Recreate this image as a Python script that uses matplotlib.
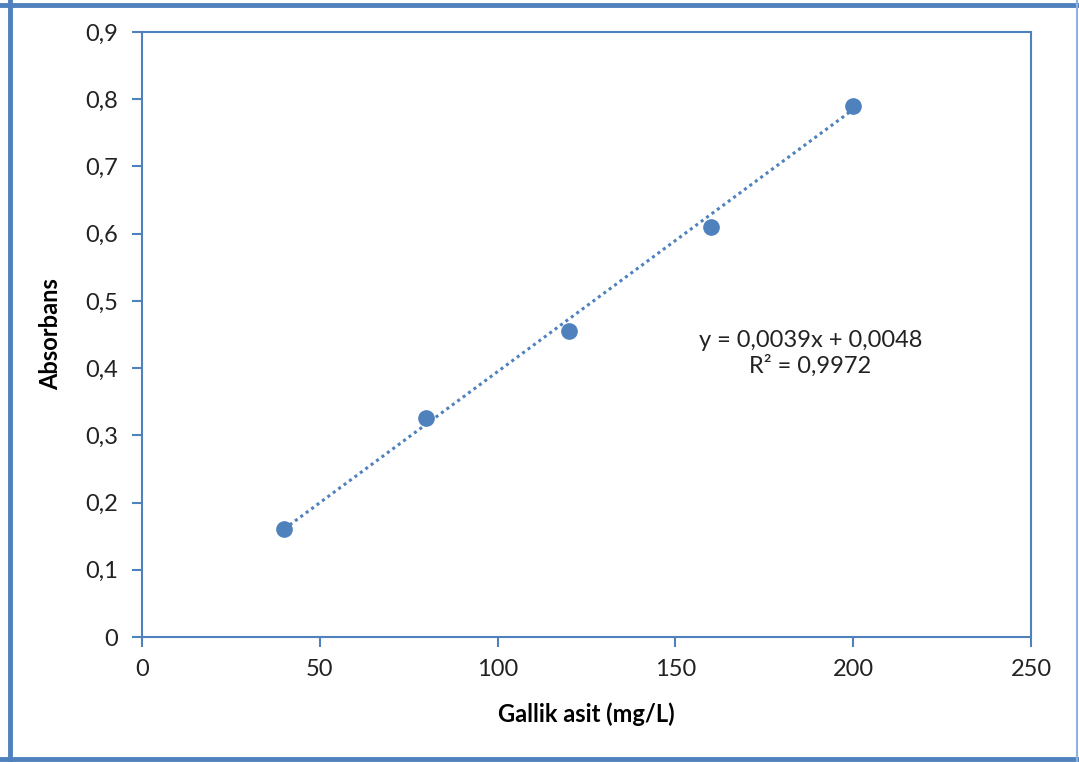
import matplotlib
matplotlib.use("Agg")
import matplotlib.pyplot as plt
import numpy as np
from matplotlib.lines import Line2D
from matplotlib.ticker import FuncFormatter

concentration = [40, 80, 120, 160, 200]
absorbance = [0.16, 0.326, 0.455, 0.61, 0.79]
slope = 0.0039
intercept = 0.0048
r2 = 0.9972
x_ticks = [0, 50, 100, 150, 200, 250]
y_ticks = [0, 0.1, 0.2, 0.3, 0.4, 0.5, 0.6, 0.7, 0.8, 0.9]

blue = "#4F81BD"
plt.rcParams['font.family'] = ['Lato', 'DejaVu Sans']

fig = plt.figure(figsize=(10.79, 7.62), dpi=100)
ax = fig.add_axes([142/1079, 1-637/762, (1031-142)/1079, (637-32)/762])

xs = np.array([concentration[0], concentration[-1]])
ax.plot(xs, slope*xs + intercept, linestyle=(0, (1, 1.2)), color=blue, lw=2.2, zorder=2)
ax.plot(concentration, absorbance, 'o', color=blue, markersize=11, zorder=3)

ax.set_xlim(0, 250)
ax.set_ylim(0, 0.9)
ax.set_xticks(x_ticks)
ax.set_yticks(y_ticks)
ax.yaxis.set_major_formatter(FuncFormatter(lambda v, p: ("%g" % round(v, 1)).replace('.', ',')))
ax.xaxis.set_major_formatter(FuncFormatter(lambda v, p: "%d" % v))
for s in ax.spines.values():
    s.set_color(blue)
    s.set_linewidth(1.5)
ax.tick_params(axis='both', direction='out', length=7, width=1.5, color=blue,
               labelsize=17, labelcolor='#222222')
ax.tick_params(axis='x', pad=9)
ax.tick_params(axis='y', pad=10)

ax.set_xlabel("Gallik asit (mg/L)", fontsize=17, fontweight='bold', labelpad=16)
ax.set_ylabel("Absorbans", fontsize=17, fontweight='bold', labelpad=17)

eq_text = "y = 0,0039x + 0,0048\nR² = 0,9972"
ax.text(188, 0.422, eq_text, transform=ax.transData,
        ha='center', va='center', fontsize=17, color='#222222', linespacing=1.2)

# outer border
fig.add_artist(Line2D([10/1079, 10/1079], [0, 1], transform=fig.transFigure, color=blue, lw=3.5))
fig.add_artist(Line2D([0, 1], [1-5/762, 1-5/762], transform=fig.transFigure, color=blue, lw=3.5))
fig.add_artist(Line2D([0, 1], [1-759/762, 1-759/762], transform=fig.transFigure, color=blue, lw=3.5))
fig.add_artist(Line2D([1077/1079, 1077/1079], [0, 1], transform=fig.transFigure, color="#8DB3E2", lw=1.5))

fig.savefig("out.png", dpi=100)
